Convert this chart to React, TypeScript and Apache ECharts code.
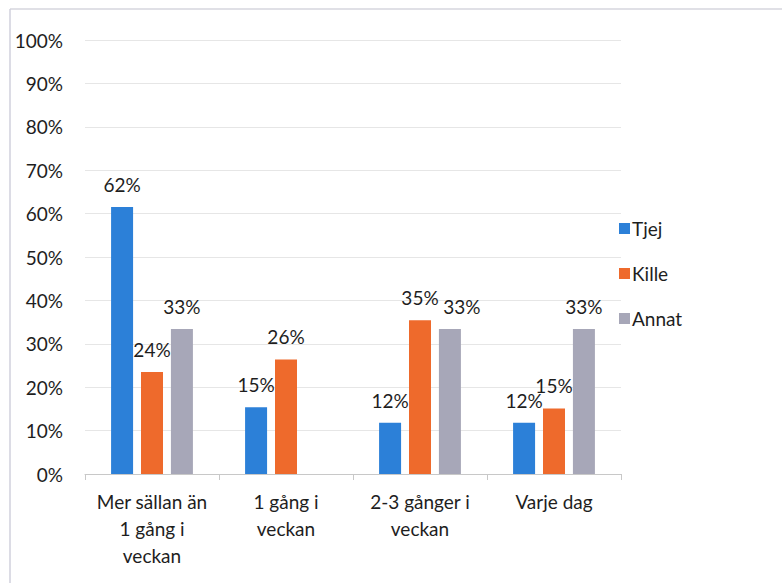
import React, { useEffect, useRef } from "react";
import * as echarts from "echarts";

const categories = ["Mer sällan än\n1 gång i\nveckan", "1 gång i\nveckan", "2-3 gånger i\nveckan", "Varje dag"];
const seriesNames = ["Tjej", "Kille", "Annat"];
const tjej = [61.5, 15.4, 11.8, 11.8];
const kille = [23.5, 26.4, 35.4, 15.1];
const annat: (number | null)[] = [33.4, null, 33.4, 33.4];
const yTicks = { min: 0, max: 100, interval: 10 };
const colors = ["#2c80d8", "#ee6a2c", "#a7a7b8"];

export default function App() {
  const ref = useRef<HTMLDivElement>(null);
  useEffect(() => {
    if (!ref.current) return;
    const chart = echarts.init(ref.current, undefined, { renderer: "svg" });
    const font = "Lato, 'Noto Sans', sans-serif";
    const textColor = "#1e1e1e";
    const mk = (name: string, data: (number | null)[], color: string, offsets: Record<number, number[]> = {}) => ({
      name,
      type: "bar",
      data: data.map((v, i) => (offsets[i] ? { value: v, label: { offset: offsets[i] } } : v)),
      barWidth: 22,
      barGap: "36%",
      itemStyle: { color },
      label: {
        show: true,
        position: "top",
        distance: 13,
        fontSize: 19,
        fontFamily: font,
        color: textColor,
        formatter: (p: any) => (p.value == null ? "" : Math.round(p.value) + "%"),
      },
    });
    chart.setOption({
      animation: false,
      backgroundColor: "#ffffff",
      textStyle: { fontFamily: font },
      color: colors,
      grid: { left: 85, right: 161, top: 40, bottom: 109, containLabel: false },
      legend: {
        orient: "vertical",
        left: 614,
        top: 214,
        itemWidth: 11,
        itemHeight: 11,
        itemGap: 26,
        icon: "rect",
        textStyle: { fontSize: 19, color: textColor, fontFamily: font, padding: [0, 0, 0, -3] },
        data: seriesNames,
      },
      xAxis: {
        type: "category",
        data: categories,
        axisLine: { lineStyle: { color: "#c8c8c8" } },
        axisTick: { show: true, length: 6, lineStyle: { color: "#c8c8c8" } },
        axisLabel: { interval: 0, fontSize: 19, lineHeight: 27, margin: 14, color: textColor, fontFamily: font },
      },
      yAxis: {
        type: "value",
        min: yTicks.min,
        max: yTicks.max,
        interval: yTicks.interval,
        axisLine: { show: false },
        axisTick: { show: false },
        axisLabel: { formatter: "{value}%", fontSize: 19, margin: 22, color: textColor, fontFamily: font },
        splitLine: { lineStyle: { color: "#e6e6e6" } },
      },
      graphic: [
        { type: "line", shape: { x1: 10, y1: 9, x2: 782, y2: 9 }, style: { stroke: "#d6d6de", lineWidth: 1.5 } },
        { type: "line", shape: { x1: 10, y1: 9, x2: 10, y2: 583 }, style: { stroke: "#d0d0dc", lineWidth: 1.5 } },
      ],
      series: [
        mk(seriesNames[0], tjej, colors[0]),
        mk(seriesNames[1], kille, colors[1]),
        mk(seriesNames[2], annat, colors[2], { 2: [12, 0] }),
      ],
    });
    return () => chart.dispose();
  }, []);
  return <div ref={ref} style={{ position: "absolute", left: 0, top: 0, width: 782, height: 583 }} />;
}
